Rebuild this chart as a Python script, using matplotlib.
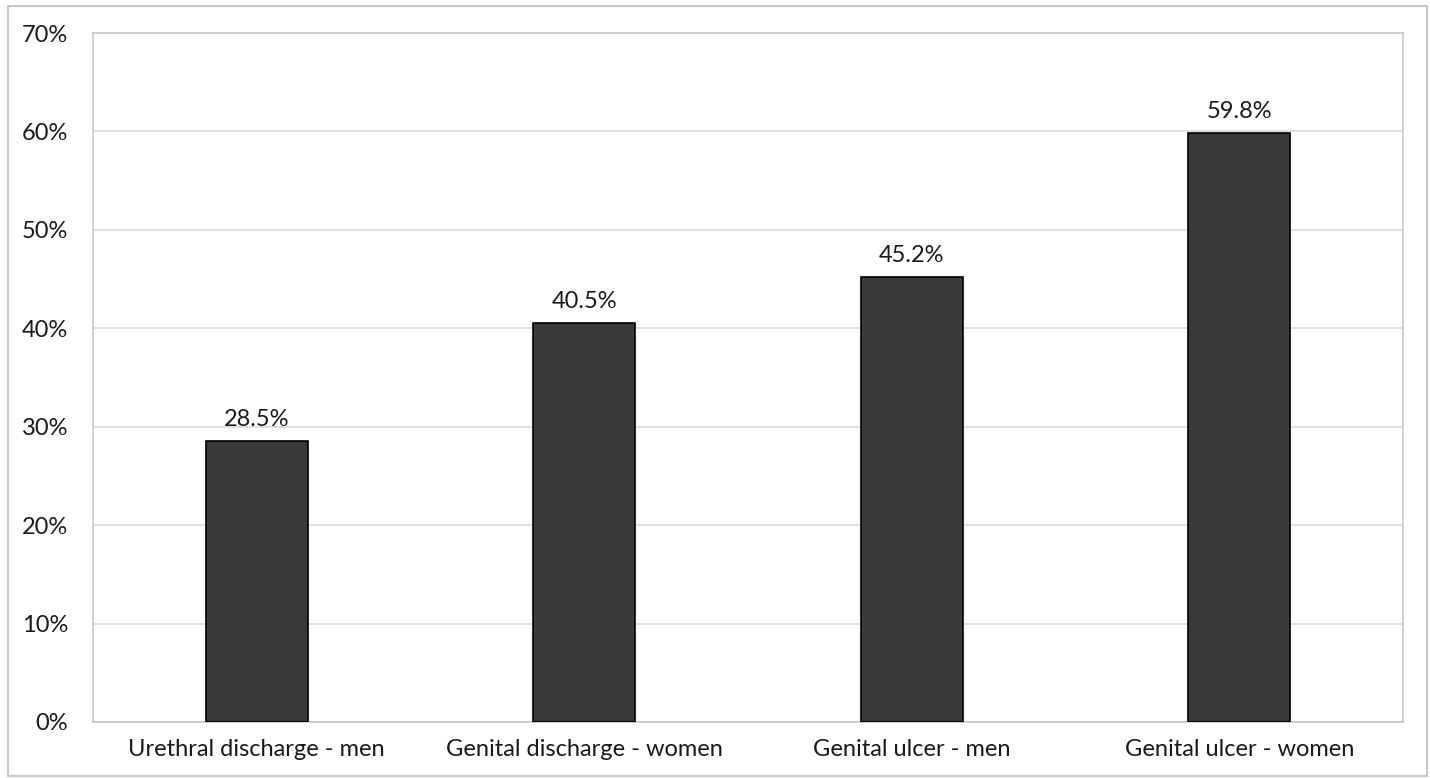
import matplotlib
matplotlib.use("Agg")
import matplotlib.pyplot as plt
from matplotlib.patches import Rectangle

categories = ["Urethral discharge - men", "Genital discharge - women",
              "Genital ulcer - men", "Genital ulcer - women"]
values = [28.5, 40.5, 45.2, 59.8]
yticks = [0, 10, 20, 30, 40, 50, 60, 70]

plt.rcParams['font.family'] = ['Lato', 'DejaVu Sans']

fig = plt.figure(figsize=(14.30, 7.78), dpi=100)
ax = fig.add_axes([93 / 1430, 1 - 722 / 778, (1403 - 93) / 1430, (722 - 33) / 778])

x = range(len(categories))
bars = ax.bar(x, values, width=0.31, color="#3a3937", edgecolor="black", linewidth=1.2, zorder=3)

for b, v in zip(bars, values):
    ax.annotate(f"{v:.1f}%", (b.get_x() + b.get_width() / 2, v),
                xytext=(0, 8), textcoords="offset points",
                ha="center", va="bottom", fontsize=17, color="#1a1a1a")

ax.set_xlim(-0.5, len(categories) - 0.5)
ax.set_ylim(0, 70)
ax.set_yticks(yticks)
ax.set_yticklabels([f"{t}%" for t in yticks])
ax.set_xticks(list(x))
ax.set_xticklabels(categories)
ax.tick_params(axis="both", length=0, labelsize=17, colors="#1a1a1a")
ax.tick_params(axis="y", pad=18)
ax.tick_params(axis="x", pad=12)
ax.grid(axis="y", color="#d9d9d9", linewidth=1.2, zorder=0)
for s in ax.spines.values():
    s.set_color("#c8c8c8")
    s.set_linewidth(1.2)

# outer border of the chart
fig.patches.append(Rectangle((8 / 1430, 0.002), 1 - 11 / 1430, 1 - 6 / 778 - 0.002,
                             transform=fig.transFigure, fill=False,
                             edgecolor="#c8c8c8", linewidth=1.5))

fig.savefig("out.png", dpi=100)
